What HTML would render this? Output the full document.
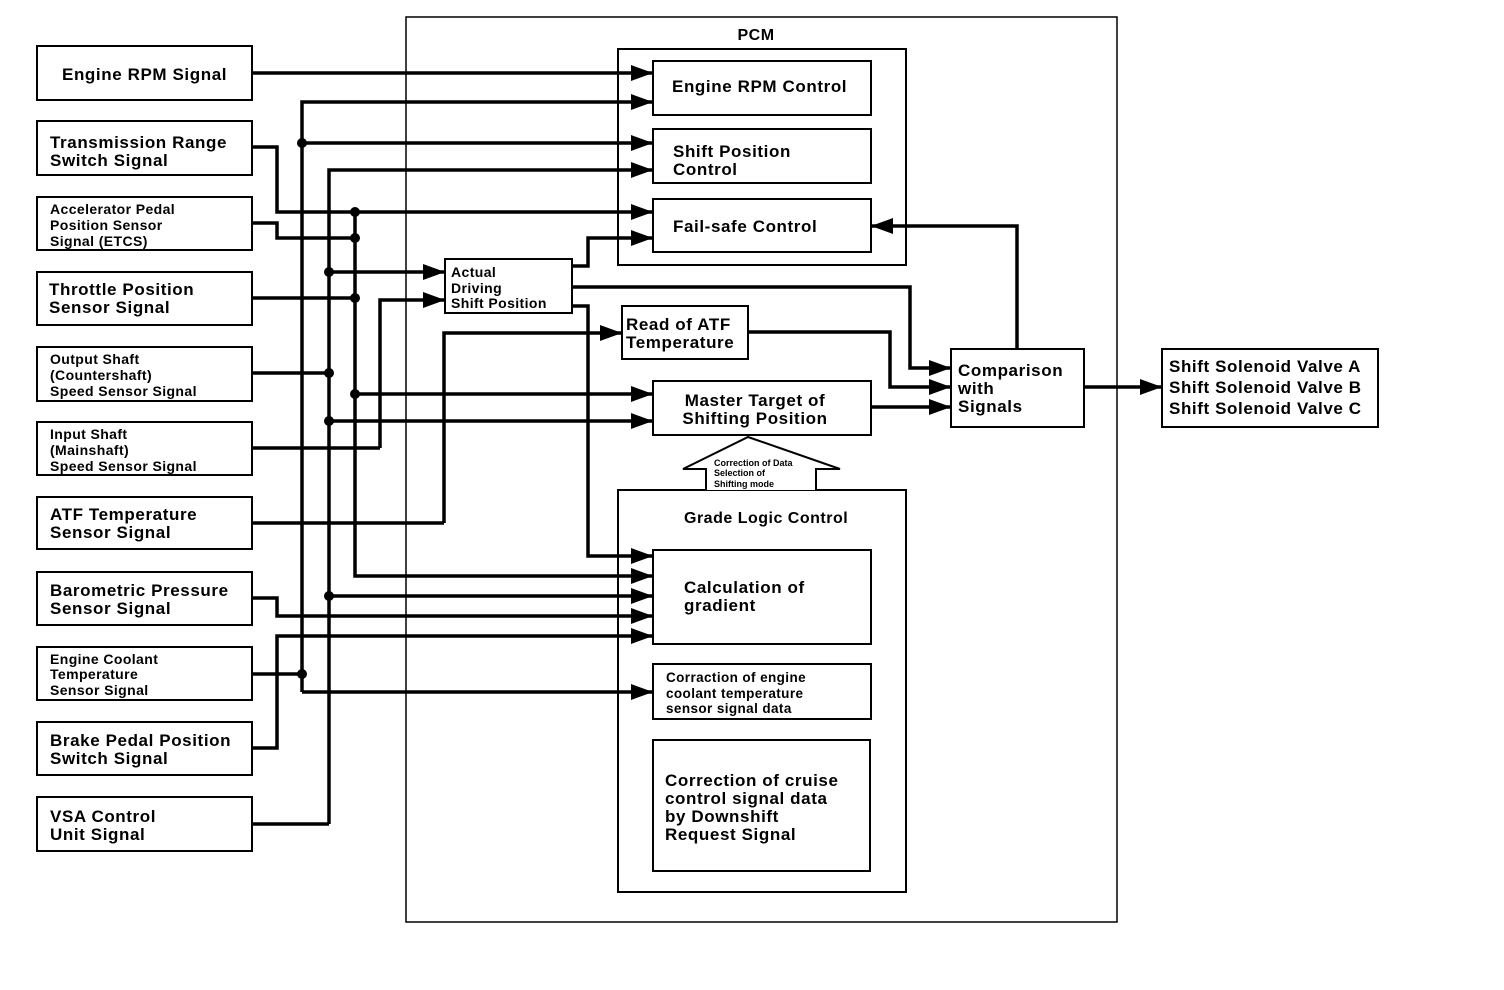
<!DOCTYPE html>
<html><head><meta charset="utf-8"><style>
html,body{margin:0;padding:0;background:#fff;}
svg{display:block;}
text{font-family:"Liberation Sans",Arial,sans-serif;font-weight:bold;fill:#000;}
</style></head><body>
<svg width="1504" height="990" viewBox="0 0 1504 990" xmlns="http://www.w3.org/2000/svg">
<defs>
<marker id="a" markerUnits="userSpaceOnUse" markerWidth="24" markerHeight="16" refX="22" refY="8" orient="auto">
<path d="M0,0 L22,8 L0,16 Z" fill="#000"/>
</marker>
</defs>
<g fill="none" stroke="#000">
<rect x="406" y="17" width="711" height="905" stroke-width="1.5"/>
<rect x="618" y="49" width="288" height="216" stroke-width="2"/>
<rect x="618" y="490" width="288" height="402" stroke-width="2"/>
<g stroke-width="2">
<rect x="37" y="46" width="215" height="54"/>
<rect x="37" y="121" width="215" height="54"/>
<rect x="37" y="197" width="215" height="53"/>
<rect x="37" y="272" width="215" height="53"/>
<rect x="37" y="347" width="215" height="54"/>
<rect x="37" y="422" width="215" height="53"/>
<rect x="37" y="497" width="215" height="52"/>
<rect x="37" y="572" width="215" height="53"/>
<rect x="37" y="647" width="215" height="53"/>
<rect x="37" y="722" width="215" height="53"/>
<rect x="37" y="797" width="215" height="54"/>
<rect x="653" y="61" width="218" height="54"/>
<rect x="653" y="129" width="218" height="54"/>
<rect x="653" y="199" width="218" height="53"/>
<rect x="445" y="259" width="127" height="54"/>
<rect x="622" y="306" width="126" height="53"/>
<rect x="653" y="381" width="218" height="54"/>
<rect x="951" y="349" width="133" height="78"/>
<rect x="1162" y="349" width="216" height="78"/>
<rect x="653" y="550" width="218" height="94"/>
<rect x="653" y="664" width="218" height="55"/>
<rect x="653" y="740" width="217" height="131"/>
</g>
<path d="M706,490 L706,469 L683,469 L748,437 L840,469 L816,469 L816,490" stroke-width="2" fill="#fff"/>
<g stroke-width="3.5" marker-end="url(#a)">
<polyline points="252,73 653,73"/>
<polyline points="302,692 302,102 653,102"/>
<polyline points="302,143 653,143"/>
<polyline points="329,824 329,170 653,170"/>
<polyline points="252,147 277,147 277,212 653,212"/>
<polyline points="572,266 588,266 588,238 653,238"/>
<polyline points="329,272 445,272"/>
<polyline points="380,448 380,300 445,300"/>
<polyline points="444,523 444,333 622,333"/>
<polyline points="572,287 910,287 910,368 951,368"/>
<polyline points="748,332 890,332 890,387 951,387"/>
<polyline points="871,407 951,407"/>
<polyline points="1084,387 1162,387"/>
<polyline points="1017,349 1017,226 871,226"/>
<polyline points="355,394 653,394"/>
<polyline points="329,421 653,421"/>
<polyline points="572,306 588,306 588,556 653,556"/>
<polyline points="355,212 355,576 653,576"/>
<polyline points="329,596 653,596"/>
<polyline points="252,598 277,598 277,616 653,616"/>
<polyline points="252,748 277,748 277,636 653,636"/>
<polyline points="302,692 653,692"/>
</g>
<g stroke-width="3.5">
<polyline points="252,223 277,223 277,238 355,238"/>
<polyline points="252,298 355,298"/>
<polyline points="252,373 329,373"/>
<polyline points="252,448 380,448"/>
<polyline points="252,523 444,523"/>
<polyline points="252,674 302,674"/>
<polyline points="252,824 329,824"/>
</g>
</g>
<g fill="#000">
<circle cx="302" cy="143" r="5"/><circle cx="302" cy="674" r="5"/>
<circle cx="329" cy="272" r="5"/><circle cx="329" cy="373" r="5"/><circle cx="329" cy="421" r="5"/><circle cx="329" cy="596" r="5"/>
<circle cx="355" cy="212" r="5"/><circle cx="355" cy="238" r="5"/><circle cx="355" cy="298" r="5"/><circle cx="355" cy="394" r="5"/>
</g>
<g font-size="17" letter-spacing="0.6">
<text x="62" y="80">Engine RPM Signal</text>
<text x="50" y="148">Transmission Range</text><text x="50" y="166">Switch Signal</text>
<text x="49" y="295">Throttle Position</text><text x="49" y="313">Sensor Signal</text>
<text x="50" y="520">ATF Temperature</text><text x="50" y="538">Sensor Signal</text>
<text x="50" y="596">Barometric Pressure</text><text x="50" y="614">Sensor Signal</text>
<text x="50" y="746">Brake Pedal Position</text><text x="50" y="764">Switch Signal</text>
<text x="50" y="822">VSA Control</text><text x="50" y="840">Unit Signal</text>
<text x="672" y="92">Engine RPM Control</text>
<text x="673" y="157">Shift Position</text><text x="673" y="175">Control</text>
<text x="673" y="232">Fail-safe Control</text>
<text x="626" y="330">Read of ATF</text><text x="626" y="348">Temperature</text>
<text x="755" y="406" text-anchor="middle">Master Target of</text><text x="755" y="424" text-anchor="middle">Shifting Position</text>
<text x="958" y="376">Comparison</text><text x="958" y="394">with</text><text x="958" y="412">Signals</text>
<text x="1169" y="372">Shift Solenoid Valve A</text><text x="1169" y="393">Shift Solenoid Valve B</text><text x="1169" y="414">Shift Solenoid Valve C</text>
<text x="684" y="593">Calculation of</text><text x="684" y="611">gradient</text>
<text x="665" y="786">Correction of cruise</text><text x="665" y="804">control signal data</text><text x="665" y="822">by Downshift</text><text x="665" y="840">Request Signal</text>
</g>
<g font-size="16" letter-spacing="0.5">
<text x="756" y="40" text-anchor="middle">PCM</text>
<text x="684" y="523">Grade Logic Control</text>
</g>
<g font-size="14" letter-spacing="0.4">
<text x="50" y="214">Accelerator Pedal</text><text x="50" y="230">Position Sensor</text><text x="50" y="246">Signal (ETCS)</text>
<text x="50" y="364">Output Shaft</text><text x="50" y="380">(Countershaft)</text><text x="50" y="396">Speed Sensor Signal</text>
<text x="50" y="439">Input Shaft</text><text x="50" y="455">(Mainshaft)</text><text x="50" y="471">Speed Sensor Signal</text>
<text x="50" y="664">Engine Coolant</text><text x="50" y="679">Temperature</text><text x="50" y="695">Sensor Signal</text>
<text x="451" y="277">Actual</text><text x="451" y="293">Driving</text><text x="451" y="308">Shift Position</text>
</g>
<g font-size="13.5" letter-spacing="0.4">
<text x="666" y="682">Corraction of engine</text><text x="666" y="698">coolant temperature</text><text x="666" y="713">sensor signal data</text>
</g>
<g font-size="9">
<text x="714" y="466">Correction of Data</text><text x="714" y="476">Selection of</text><text x="714" y="487">Shifting mode</text>
</g>
</svg>
</body></html>
